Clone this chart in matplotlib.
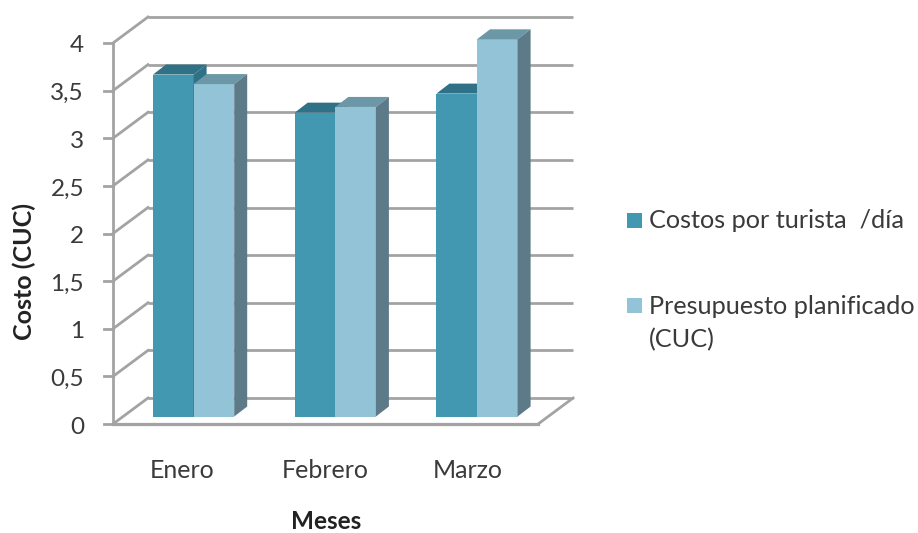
"""Clustered column chart with an oblique 3D look, drawn with plain polygons."""

import matplotlib

matplotlib.use("Agg")
import matplotlib.pyplot as plt
from matplotlib.patches import Polygon, Rectangle

MESES = ["Enero", "Febrero", "Marzo"]
COSTOS = [3.59, 3.19, 3.39]
PRESUPUESTO = [3.49, 3.25, 3.96]
Y_TICKS = [0, 0.5, 1, 1.5, 2, 2.5, 3, 3.5, 4]
Y_LABELS = ["0", "0,5", "1", "1,5", "2", "2,5", "3", "3,5", "4"]

W, H = 918, 533
X_UNIT = 141.7  # px per category
Y_UNIT = 95.25  # px per cost unit
X0, Y0 = 113, 424  # px position of the front origin

# wall depth and bar depth, in data units
WALL_DX, WALL_DY = 35 / X_UNIT, 26 / Y_UNIT
BAR_DX, BAR_DY = 13 / X_UNIT, 10 / Y_UNIT
BAR_WIDTH = 40.6 / X_UNIT
BAR_LEFT = 40 / X_UNIT  # gap from category start to first bar
BAR_BASE = 7.5 / Y_UNIT

GRID = "#a3a3a3"
TEXT = "#3a3a3a"
FONT = "Lato"

DARK = ("#4198b0", "#2f7186", "#2f7186")
LIGHT = ("#93c3d6", "#6b97a6", "#5c7a87")


def draw_bar(ax, left, value, colors):
    front, top, side = colors
    bottom = BAR_BASE
    height = bottom + value
    right = left + BAR_WIDTH
    ax.add_patch(Rectangle((left, bottom), BAR_WIDTH, value, fc=front, ec="none", zorder=3))
    ax.add_patch(Polygon(
        [(left, height), (right, height), (right + BAR_DX, height + BAR_DY), (left + BAR_DX, height + BAR_DY)],
        fc=top, ec="none", zorder=3,
    ))
    ax.add_patch(Polygon(
        [(right, bottom), (right + BAR_DX, bottom + BAR_DY), (right + BAR_DX, height + BAR_DY), (right, height)],
        fc=side, ec="none", zorder=3,
    ))


fig = plt.figure(figsize=(W / 100, H / 100), dpi=100)
ax = fig.add_axes([0, 0, 1, 1])
ax.set_xlim(-X0 / X_UNIT, (W - X0) / X_UNIT)
ax.set_ylim((Y0 - H) / Y_UNIT, Y0 / Y_UNIT)
ax.axis("off")

n = len(MESES)
lw = 2.0

# back wall gridlines and the left wall diagonals
for t, tick_label in zip(Y_TICKS, Y_LABELS):
    ax.plot([WALL_DX, n + WALL_DX], [t + WALL_DY, t + WALL_DY], color=GRID, lw=lw, zorder=1, solid_capstyle="butt")
    ax.plot([0, WALL_DX], [t, t + WALL_DY], color=GRID, lw=lw, zorder=1)
    ax.plot([-9 / X_UNIT, 0], [t, t], color=GRID, lw=lw, zorder=1)
    ax.text(-29 / X_UNIT, t - 3 / Y_UNIT, tick_label, ha="right", va="center",
            fontsize=17.5, color=TEXT, family=FONT)

# left axis, floor front edge and floor right edge
ax.plot([0, 0], [0, Y_TICKS[-1]], color=GRID, lw=lw, zorder=1)
ax.plot([0, n], [0, 0], color=GRID, lw=lw + 0.3, zorder=1)
ax.plot([n, n + WALL_DX], [0, WALL_DY], color=GRID, lw=lw, zorder=1)

for i, mes in enumerate(MESES):
    left = i + BAR_LEFT
    draw_bar(ax, left, COSTOS[i], DARK)
    draw_bar(ax, left + BAR_WIDTH, PRESUPUESTO[i], LIGHT)
    ax.text(i * 1.01 + 0.485, -47 / Y_UNIT, mes, ha="center", va="center", fontsize=18, color=TEXT, family=FONT)

ax.text(n / 2 + 0.005, -97.5 / Y_UNIT, "Meses", ha="center", va="center",
        fontsize=17.5, fontweight="bold", color="#222222", family=FONT)
ax.text(-89 / X_UNIT, 1.6, "Costo (CUC)", rotation=90, ha="center", va="center",
        fontsize=18, fontweight="bold", color="#222222", family=FONT)

# legend
for y_px, color in ((220.5, DARK[0]), (305.5, LIGHT[0])):
    ax.add_patch(Rectangle(((627 - X0) / X_UNIT, (Y0 - y_px - 7.5) / Y_UNIT), 15 / X_UNIT, 15 / Y_UNIT,
                           fc=color, ec="none"))
for y_px, label in ((221, "Costos por turista  /día"), (306, "Presupuesto planificado"), (340, "(CUC)")):
    ax.text((649 - X0) / X_UNIT, (Y0 - y_px) / Y_UNIT, label, ha="left", va="center",
            fontsize=18.2, color=TEXT, family=FONT)

fig.savefig("out.png", dpi=100, facecolor="white")
